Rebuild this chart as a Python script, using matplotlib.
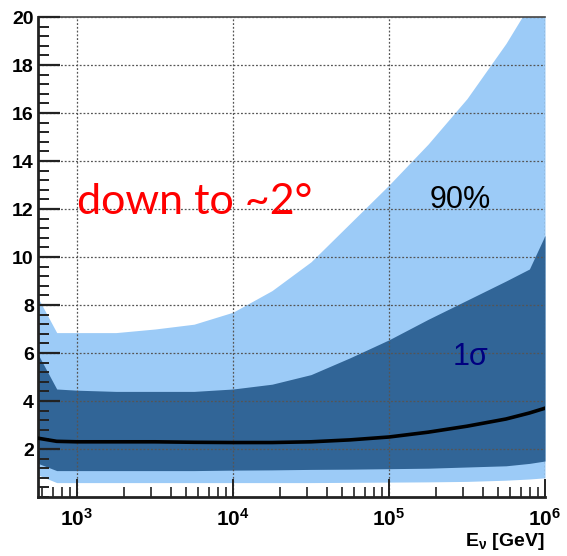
"""
Angular resolution bands vs neutrino energy
"""
import numpy as np
import matplotlib
matplotlib.use("Agg")
import matplotlib.pyplot as plt
from matplotlib.ticker import FixedLocator, MultipleLocator, LogLocator, NullFormatter

# ─── Data ────────────────────────────────────────────────────────────────
log_energy = [2.75, 2.87, 3.0, 3.25, 3.5, 3.75, 4.0, 4.25, 4.5, 4.75, 5.0, 5.25, 5.5, 5.75, 5.9, 6.0]
band90_hi = [8.3, 6.85, 6.85, 6.85, 7.0, 7.2, 7.7, 8.6, 9.8, 11.4, 13.0, 14.7, 16.6, 18.9, 20.5, 21.0]
band1s_hi = [5.95, 4.5, 4.45, 4.4, 4.4, 4.4, 4.5, 4.7, 5.1, 5.8, 6.55, 7.4, 8.2, 9.0, 9.5, 10.9]
median = [2.45, 2.32, 2.3, 2.3, 2.3, 2.28, 2.27, 2.27, 2.3, 2.38, 2.5, 2.7, 2.95, 3.25, 3.5, 3.7]
band1s_lo = [1.4, 1.1, 1.1, 1.1, 1.1, 1.1, 1.12, 1.13, 1.15, 1.16, 1.18, 1.2, 1.25, 1.3, 1.4, 1.5]
band90_lo = [0.92, 0.6, 0.6, 0.6, 0.6, 0.6, 0.6, 0.6, 0.6, 0.61, 0.62, 0.63, 0.65, 0.7, 0.75, 0.8]

xtick_values = [1e3, 1e4, 1e5, 1e6]
xtick_labels = [r"$\mathbf{10^{3}}$", r"$\mathbf{10^{4}}$", r"$\mathbf{10^{5}}$", r"$\mathbf{10^{6}}$"]

LIGHT = "#9ccbf7"
DARK = "#316597"
LABEL_FONT = ["Liberation Sans", "DejaVu Sans"]

plt.rcParams["mathtext.fontset"] = "custom"
plt.rcParams["mathtext.rm"] = "Liberation Sans"
plt.rcParams["mathtext.bf"] = "Liberation Sans:bold"
plt.rcParams["mathtext.it"] = "Liberation Sans:bold"

energy = 10 ** np.array(log_energy)

fig = plt.figure(figsize=(5.67, 5.56), dpi=100)
ax = fig.add_axes([38 / 567, 59 / 556, 507 / 567, 480 / 556])

ax.fill_between(energy, band90_lo, band90_hi, color=LIGHT, lw=0, zorder=1)
ax.fill_between(energy, band1s_lo, band1s_hi, color=DARK, lw=0, zorder=1.5)
ax.plot(energy, median, color="black", lw=2.6, zorder=3)

ax.set_xscale("log")
ax.set_xlim(10 ** 2.75, 1e6)
ax.set_ylim(0, 20)

# ROOT-ish ticks
ax.yaxis.set_minor_locator(MultipleLocator(0.4))
ax.set_yticks(range(2, 21, 2))
ax.xaxis.set_major_locator(FixedLocator(xtick_values))
ax.xaxis.set_minor_locator(LogLocator(base=10, subs=np.arange(2, 10)))
ax.xaxis.set_minor_formatter(NullFormatter())
ax.set_xticklabels(xtick_labels)
ax.tick_params(axis="both", which="both", direction="in", top=False, right=False, color="#222222")
ax.tick_params(axis="y", which="major", length=16, width=1.6, pad=3, labelsize=14)
ax.tick_params(axis="y", which="minor", length=8, width=1.4)
ax.tick_params(axis="x", which="major", length=13, width=1.4, pad=8, labelsize=15)
ax.tick_params(axis="x", which="minor", length=7, width=1.2)
for lab in ax.get_yticklabels():
    lab.set_family(LABEL_FONT)
    lab.set_fontweight("bold")

ax.grid(True, which="major", linestyle=(0, (1.5, 1.5)), color="#555555", lw=0.9)
ax.set_axisbelow(False)

for side in ["left", "bottom"]:
    ax.spines[side].set_linewidth(2.0)
    ax.spines[side].set_color("#222222")
ax.spines["top"].set_linewidth(1.2)
ax.spines["top"].set_color("#444444")
ax.spines["right"].set_visible(False)

ax.set_xlabel(r"E$_{\nu}$ [GeV]", family=LABEL_FONT, fontweight="bold", fontsize=14,
              loc="right", labelpad=1)

# annotations
ax.text(0.077, 0.59, "down to ~2°", transform=ax.transAxes, color="red",
        fontsize=31, family=["Lato", "DejaVu Sans"], ha="left", va="baseline")
ax.text(0.773, 0.602, "90%", transform=ax.transAxes, color="black",
        fontsize=22, family=["Liberation Sans", "DejaVu Sans"], ha="left", va="baseline")
ax.text(0.817, 0.275, "1σ", transform=ax.transAxes, color="#000080",
        fontsize=22, family=["Liberation Sans", "DejaVu Sans"], ha="left", va="baseline")

fig.savefig("out.png", dpi=100)
